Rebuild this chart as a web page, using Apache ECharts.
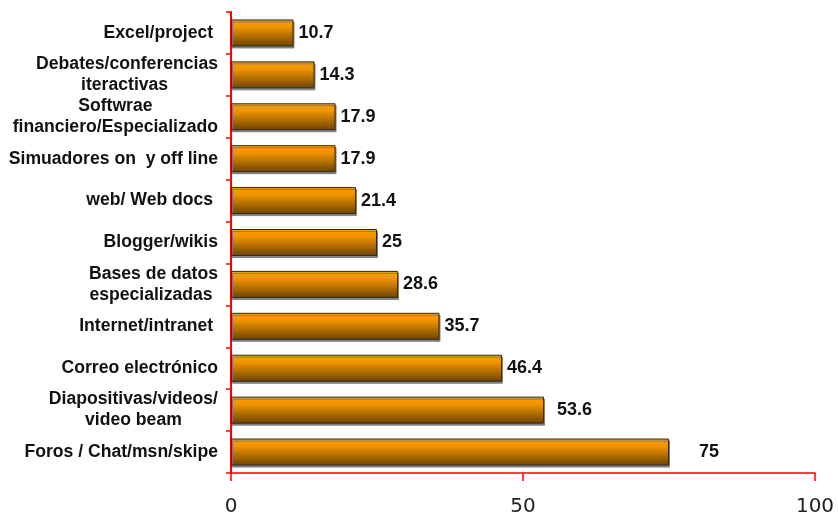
<!DOCTYPE html>
<html>
<head>
<meta charset="utf-8">
<script src="https://cdn.jsdelivr.net/npm/echarts@6/dist/echarts.min.js"></script>
<style>
html,body{margin:0;padding:0;background:#fff;}
#chart{width:838px;height:517px;}
</style>
</head>
<body>
<div id="chart"></div>
<script>
// Categories listed top to bottom
const categories = [
  "Excel/project ",
  "Debates/conferencias\niteractivas ",
  "Softwrae\nfinanciero/Especializado",
  "Simuadores on  y off line",
  "web/ Web docs ",
  "Blogger/wikis",
  "Bases de datos\nespecializadas ",
  "Internet/intranet ",
  "Correo electrónico",
  "Diapositivas/videos/\nvideo beam",
  "Foros / Chat/msn/skipe"
];
const values = [10.7, 14.3, 17.9, 17.9, 21.4, 25, 28.6, 35.7, 46.4, 53.6, 75];
const xTicks = [0, 50, 100];

const labelGap = [5, 5, 5, 5, 5, 5, 5, 5, 5, 13, 30];

const chart = echarts.init(document.getElementById('chart'));
const barColor = new echarts.graphic.LinearGradient(0, 0, 0, 1, [
  {offset: 0, color: '#FFA200'},
  {offset: 0.3, color: '#EE9200'},
  {offset: 1, color: '#6C4300'}
]);

chart.setOption({
  animation: false,
  backgroundColor: '#ffffff',
  grid: {left: 231, right: 23, top: 12, bottom: 44, containLabel: false},
  xAxis: {
    type: 'value',
    min: xTicks[0],
    max: xTicks[xTicks.length - 1],
    interval: xTicks[1] - xTicks[0],
    axisLine: {show: true, lineStyle: {color: '#FF0000', width: 1.5}},
    axisTick: {show: true, length: 8, lineStyle: {color: '#FF0000', width: 1.5}},
    splitLine: {show: false},
    axisLabel: {
      margin: 24,
      fontFamily: 'DejaVu Sans',
      fontSize: 20,
      color: '#222222'
    }
  },
  yAxis: {
    type: 'category',
    inverse: true,
    data: categories,
    axisLine: {show: true, lineStyle: {color: '#FF0000', width: 2}},
    axisTick: {show: true, length: 5, lineStyle: {color: '#FF0000', width: 1.5}},
    axisLabel: {
      margin: 13,
      align: 'right',
      formatter: function (v) {
        return v.split('\n').map(function (s) { return '{c|' + s + '}'; }).join('\n');
      },
      rich: {
        c: {
          align: 'center',
          fontFamily: 'Liberation Sans, Arial, sans-serif',
          fontWeight: 'bold',
          fontSize: 17.6,
          lineHeight: 21,
          color: '#111111'
        }
      }
    }
  },
  series: [{
    type: 'bar',
    barWidth: 27,
    data: values.map(function (v, i) {
      return {value: v, label: {distance: labelGap[i]}};
    }),
    itemStyle: {
      color: barColor,
      borderColor: '#2a2a2a',
      borderWidth: 1,
      shadowColor: 'rgba(120,120,120,0.9)',
      shadowOffsetX: 1,
      shadowOffsetY: 2,
      shadowBlur: 0
    },
    label: {
      show: true,
      position: 'right',
      fontFamily: 'Liberation Sans, Arial, sans-serif',
      fontWeight: 'bold',
      fontSize: 18,
      color: '#111111'
    }
  }]
});
</script>
</body>
</html>
